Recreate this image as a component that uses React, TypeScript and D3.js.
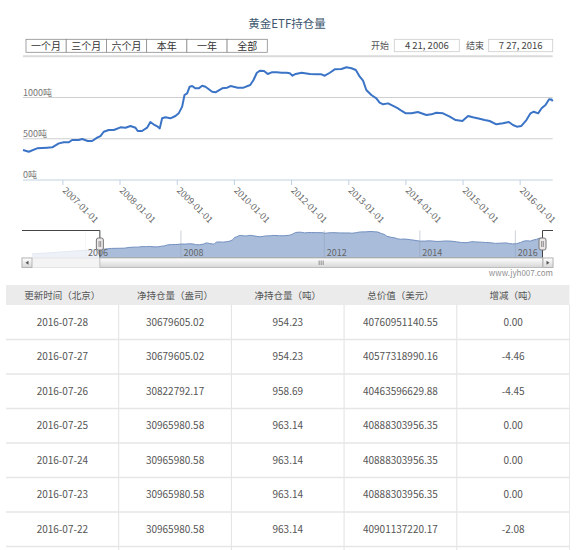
import React from "react";
import * as d3 from "d3";

const title = "黄金ETF持仓量";
const rangeButtons = ["一个月", "三个月", "六个月", "本年", "一年", "全部"];
const rangeStartLabel = "开始";
const rangeStartValue = "4 21, 2006";
const rangeEndLabel = "结束";
const rangeEndValue = "7 27, 2016";

const holdingDates = [
  "2006-04-21", "2006-05-28", "2006-07-20", "2006-09-23", "2006-10-25", "2006-12-06",
  "2007-01-07", "2007-02-08", "2007-03-01", "2007-04-12", "2007-05-04", "2007-06-09", "2007-07-07", "2007-08-08", "2007-08-29", "2007-09-19", "2007-10-21", "2007-11-22",
  "2008-01-04", "2008-02-05", "2008-03-08", "2008-04-09", "2008-04-23", "2008-05-21", "2008-06-22", "2008-07-13", "2008-08-08", "2008-08-29", "2008-09-11", "2008-09-26", "2008-10-17", "2008-11-18", "2008-12-20",
  "2009-01-10", "2009-02-01", "2009-02-16", "2009-03-05", "2009-03-21", "2009-04-06", "2009-04-27", "2009-05-18", "2009-06-09", "2009-06-30", "2009-08-12", "2009-09-02", "2009-10-15", "2009-11-16", "2009-12-07", "2009-12-28",
  "2010-02-12", "2010-04-28", "2010-07-22", "2010-09-02", "2010-10-15", "2010-11-26",
  "2011-01-15", "2011-03-03", "2011-04-22", "2011-06-25", "2011-08-27", "2011-10-29", "2011-12-10",
  "2012-01-07", "2012-01-28", "2012-03-05", "2012-04-27", "2012-06-09", "2012-07-10", "2012-07-31", "2012-09-02", "2012-10-03", "2012-11-15", "2012-12-17",
  "2013-01-18", "2013-02-15", "2013-03-12", "2013-04-02", "2013-04-23", "2013-05-25", "2013-06-26", "2013-07-17", "2013-08-08", "2013-09-09", "2013-10-21", "2013-11-11", "2013-12-03", "2013-12-31",
  "2014-02-06", "2014-03-18", "2014-05-12", "2014-06-13", "2014-07-14", "2014-08-26", "2014-10-08", "2014-11-15", "2014-12-28",
  "2015-02-02", "2015-03-05", "2015-04-17", "2015-05-19", "2015-06-20", "2015-08-02", "2015-09-13", "2015-10-21", "2015-11-16", "2015-12-11",
  "2016-01-09", "2016-02-10", "2016-03-07", "2016-03-28", "2016-04-25", "2016-05-17", "2016-06-11", "2016-07-04", "2016-07-20", "2016-07-27",
];
const holdingTons = [
  364, 343, 384, 392, 396, 444,
  457, 457, 485, 485, 497, 473, 473, 513, 533, 585, 606, 606,
  638, 634, 655, 634, 594, 594, 634, 703, 667, 646, 626, 748, 760, 748, 776,
  808, 889, 1030, 1051, 1131, 1139, 1111, 1111, 1143, 1131, 1070, 1063, 1111, 1119, 1139, 1131,
  1119, 1119, 1151, 1212, 1300, 1325,
  1321, 1285, 1305, 1305, 1300, 1300, 1293,
  1264, 1285, 1300, 1285, 1281, 1281, 1264, 1300, 1341, 1345, 1366,
  1354, 1333, 1252, 1204, 1091, 1030, 990, 937, 917, 929, 889, 869, 840, 808,
  808, 824, 788, 796, 816, 808, 767, 727, 715,
  776, 760, 743, 727, 715, 675, 687, 703, 667, 646,
  655, 727, 808, 828, 808, 869, 909, 978, 975, 954,
];
const navPreDates = ["2004-11-18", "2005-03-15", "2005-08-01", "2006-01-01"];
const navPreTons = [60, 120, 195, 275];

const yTicks = [0, 500, 1000, 1500];
const yTickLabels = ["0吨", "500吨", "1000吨", ""];
const xTickLabels = ["2007-01-01", "2008-01-01", "2009-01-01", "2010-01-01", "2012-01-01", "2013-01-01", "2014-01-01", "2015-01-01", "2016-01-01"];
const navTickLabels = ["2006", "2008", "2012", "2014", "2016"];
const gapDates = ["2010-01-01", "2012-01-01"];

const tableHeaders = ["更新时间（北京）", "净持仓量（盎司）", "净持仓量（吨）", "总价值（美元）", "增减（吨）"];
const tableDates = ["2016-07-28", "2016-07-27", "2016-07-26", "2016-07-25", "2016-07-24", "2016-07-23", "2016-07-22"];
const tableOunces = ["30679605.02", "30679605.02", "30822792.17", "30965980.58", "30965980.58", "30965980.58", "30965980.58"];
const tableTons = ["954.23", "954.23", "958.69", "963.14", "963.14", "963.14", "963.14"];
const tableValues = ["40760951140.55", "40577318990.16", "40463596629.88", "40888303956.35", "40888303956.35", "40888303956.35", "40901137220.17"];
const tableChanges = ["0.00", "-4.46", "-4.45", "0.00", "0.00", "0.00", "-2.08"];
const watermark = "www.jyh007.com";

const FONT = "'Noto Sans CJK SC', 'Noto Sans', sans-serif";
const parse = d3.timeParse("%Y-%m-%d");

function compressedTime(d0: Date, d1: Date, r0: number, r1: number) {
  const g0 = parse(gapDates[0])!;
  const g1 = parse(gapDates[1])!;
  const yrs = (a: Date, b: Date) => (+b - +a) / (365.25 * 864e5);
  const u1 = yrs(d0, g0);
  const u2 = yrs(g0, g1) / 2;
  const u3 = yrs(g1, d1);
  const k = (r1 - r0) / (u1 + u2 + u3);
  return d3.scaleTime().domain([d0, g0, g1, d1]).range([r0, r0 + k * u1, r0 + k * (u1 + u2), r1]);
}

export default function App() {
  const W = 576, H = 550;
  const plotL = 23, plotR = 552.7, plotTop = 56.25, plotBottom = 180;

  const mainData = holdingDates.map((d, i) => ({ date: parse(d)!, v: holdingTons[i] }));
  const navData = [
    ...navPreDates.map((d, i) => ({ date: parse(d)!, v: navPreTons[i] })),
    ...mainData,
  ];
  const mainStart = mainData[0].date;
  const mainEnd = mainData[mainData.length - 1].date;

  const x = compressedTime(mainStart, mainEnd, plotL, plotR);
  const y = d3.scaleLinear().domain([0, 1500]).range([plotBottom, plotTop]);
  const line = d3.line<{ date: Date; v: number }>().x(d => x(d.date)).y(d => y(d.v));

  // navigator
  const navFrameL = 22, navFrameR = 553, navTop = 230.5, navBottom = 258;
  const nx = compressedTime(navData[0].date, mainEnd, 32, 542.5);
  const ny = d3.scaleLinear().domain([0, d3.max(navData, d => d.v)!]).range([255, 231.5]);
  const navArea = d3.area<{ date: Date; v: number }>().x(d => nx(d.date)).y0(navBottom).y1(d => ny(d.v));
  const navLine = d3.line<{ date: Date; v: number }>().x(d => nx(d.date)).y(d => ny(d.v));
  const hL = nx(mainStart), hR = nx(mainEnd);
  const sbTop = 258, sbBottom = 267.5;

  // buttons
  const btn = d3.scaleBand().domain(rangeButtons).range([26, 267.3]).paddingInner(0);

  // table
  const col = d3.scaleBand().domain(tableHeaders).range([6, 569.5]);
  const headTop = 285, headBottom = 305, rowH = 34.5;
  const rows = tableDates.map((d, i) => [d, tableOunces[i], tableTons[i], tableValues[i], tableChanges[i]]);

  const handle = (hx: number) => (
    <g>
      <rect x={hx - 3.5} y={238} width={7} height={12} rx={2} fill="#EBE7E8" stroke="#777" strokeWidth={1} />
      <line x1={hx - 0.8} x2={hx - 0.8} y1={241} y2={247} stroke="#666" strokeWidth={0.7} />
      <line x1={hx + 0.8} x2={hx + 0.8} y1={241} y2={247} stroke="#666" strokeWidth={0.7} />
    </g>
  );

  return (
    <svg width={W} height={H} style={{ position: "absolute", left: 0, top: 0, background: "#fff" }} fontFamily={FONT}>
      <defs>
        <linearGradient id="sbgrad" x1="0" y1="0" x2="0" y2="1">
          <stop offset="0" stopColor="#FFFFFF" />
          <stop offset="1" stopColor="#D6D6D6" />
        </linearGradient>
      </defs>
      <rect x={0} y={0} width={W} height={H} fill="#fff" />

      {/* title */}
      <text x={287} y={27.5} textAnchor="middle" fontSize={11.5} fill="#3E576F">{title}</text>

      {/* range buttons */}
      {rangeButtons.map(b => (
        <g key={b}>
          <rect x={btn(b)!} y={39.3} width={btn.bandwidth()} height={13} fill="#fff" stroke="#8C8C8C" strokeWidth={0.8} />
          <text x={btn(b)! + btn.bandwidth() / 2} y={49.5} textAnchor="middle" fontSize={10} fill="#333">{b}</text>
        </g>
      ))}

      {/* range inputs */}
      <text x={389} y={49.3} textAnchor="end" fontSize={9} fill="#555">{rangeStartLabel}</text>
      <rect x={394.3} y={39.3} width={65} height={12.4} fill="#fff" stroke="#CCCCCC" strokeWidth={0.8} />
      <text x={426.8} y={49} textAnchor="middle" fontSize={9.5} fill="#444">{rangeStartValue}</text>
      <text x={484} y={49.3} textAnchor="end" fontSize={9} fill="#555">{rangeEndLabel}</text>
      <rect x={488.7} y={39.3} width={64} height={12.4} fill="#fff" stroke="#CCCCCC" strokeWidth={0.8} />
      <text x={520.7} y={49} textAnchor="middle" fontSize={9.5} fill="#444">{rangeEndValue}</text>

      {/* grid */}
      {yTicks.map((t, i) => (
        <g key={t}>
          {t > 0 && (
            <line x1={plotL} x2={plotR} y1={y(t)} y2={y(t)} stroke={t === 1500 ? "#DADADA" : "#CFCFCF"} strokeWidth={t === 1500 ? 2 : 1} />
          )}
          {yTickLabels[i] && (
            <text x={plotL} y={y(t) - 2} fontSize={9} fill="#777">{yTickLabels[i]}</text>
          )}
        </g>
      ))}
      <line x1={plotL} x2={plotR} y1={plotBottom} y2={plotBottom} stroke="#C0D0E0" strokeWidth={1} />
      {xTickLabels.map(l => {
        const tx = x(parse(l)!);
        return (
          <g key={l}>
            <line x1={tx} x2={tx} y1={plotBottom} y2={plotBottom + 5} stroke="#C0D0E0" strokeWidth={1} />
            <text transform={`translate(${tx - 1},${plotBottom + 11}) rotate(45)`} fontSize={9} fill="#666">{l}</text>
          </g>
        );
      })}

      {/* series */}
      <path d={line(mainData)!} fill="none" stroke="#3B74C6" strokeWidth={2} strokeLinejoin="round" />

      {/* navigator */}
      <path d={navArea(navData)!} fill="#A9BDDB" />
      <path d={navLine(navData)!} fill="none" stroke="#7390C0" strokeWidth={1} />
      {navTickLabels.map(l => {
        const tx = nx(parse(l + "-01-01")!);
        return (
          <line key={l} x1={tx} x2={tx} y1={navTop} y2={navBottom} stroke="#8E9BB0" strokeOpacity={0.45} strokeWidth={1} />
        );
      })}
      <rect x={navFrameL} y={navTop} width={hL - navFrameL} height={navBottom - navTop} fill="#fff" fillOpacity={0.8} />
      <rect x={hR} y={navTop} width={navFrameR - hR} height={navBottom - navTop} fill="#fff" fillOpacity={0.8} />
      {navTickLabels.map(l => {
        const tx = nx(parse(l + "-01-01")!);
        return (
          <text key={l} x={tx + 2.5} y={255.5} fontSize={9} fill="#666">{l}</text>
        );
      })}
      <path d={`M${navFrameL},${navTop}H${hL}V${navBottom}H${hR}V${navTop}H${navFrameR}`} fill="none" stroke="#444" strokeWidth={1} />

      {/* scrollbar */}
      <rect x={navFrameL} y={sbTop} width={navFrameR - navFrameL} height={sbBottom - sbTop} fill="#F4F4F4" stroke="#E0E0E0" strokeWidth={0.8} />
      <rect x={hL} y={sbTop} width={hR - hL} height={sbBottom - sbTop} fill="url(#sbgrad)" stroke="#B5B5B5" strokeWidth={0.8} />
      {[-2, 0, 2].map(o => (
        <line key={o} x1={(hL + hR) / 2 + o} x2={(hL + hR) / 2 + o} y1={sbTop + 2.5} y2={sbBottom - 2.5} stroke="#777" strokeWidth={0.8} />
      ))}
      <rect x={navFrameL} y={sbTop} width={10} height={sbBottom - sbTop} fill="url(#sbgrad)" stroke="#AAAAAA" strokeWidth={0.8} />
      <path d={`M${navFrameL + 3.5},${(sbTop + sbBottom) / 2}L${navFrameL + 6.5},${(sbTop + sbBottom) / 2 - 2}V${(sbTop + sbBottom) / 2 + 2}Z`} fill="#555" />
      <rect x={navFrameR - 10} y={sbTop} width={10} height={sbBottom - sbTop} fill="url(#sbgrad)" stroke="#AAAAAA" strokeWidth={0.8} />
      <path d={`M${navFrameR - 3.5},${(sbTop + sbBottom) / 2}L${navFrameR - 6.5},${(sbTop + sbBottom) / 2 - 2}V${(sbTop + sbBottom) / 2 + 2}Z`} fill="#555" />
      {handle(hL)}
      {handle(hR)}
      <text x={553} y={275.5} textAnchor="end" fontSize={8} fill="#909090">{watermark}</text>

      {/* table */}
      <rect x={6} y={headTop} width={563.5} height={headBottom - headTop} fill="#EBEBEB" />
      {tableHeaders.map(h => (
        <text key={h} x={col(h)! + col.bandwidth() / 2} y={299} textAnchor="middle" fontSize={9.5} fill="#555">{h}</text>
      ))}
      {tableHeaders.slice(1).map(h => (
        <line key={"v" + h} x1={col(h)!} x2={col(h)!} y1={headBottom} y2={H} stroke="#E2E2E2" strokeWidth={1} />
      ))}
      <line x1={569.5} x2={569.5} y1={headBottom} y2={H} stroke="#EAEAEA" strokeWidth={1} />
      {rows.map((r, i) => {
        const top = headBottom + i * rowH;
        return (
          <g key={i}>
            {r.map((c, j) => (
              <text key={j} x={col(tableHeaders[j])! + col.bandwidth() / 2} y={top + rowH / 2 + 3.5} textAnchor="middle" fontSize={10} fill="#555">{c}</text>
            ))}
            <line x1={6} x2={569.5} y1={top + rowH} y2={top + rowH} stroke="#E6E6E6" strokeWidth={1.5} />
          </g>
        );
      })}
    </svg>
  );
}
